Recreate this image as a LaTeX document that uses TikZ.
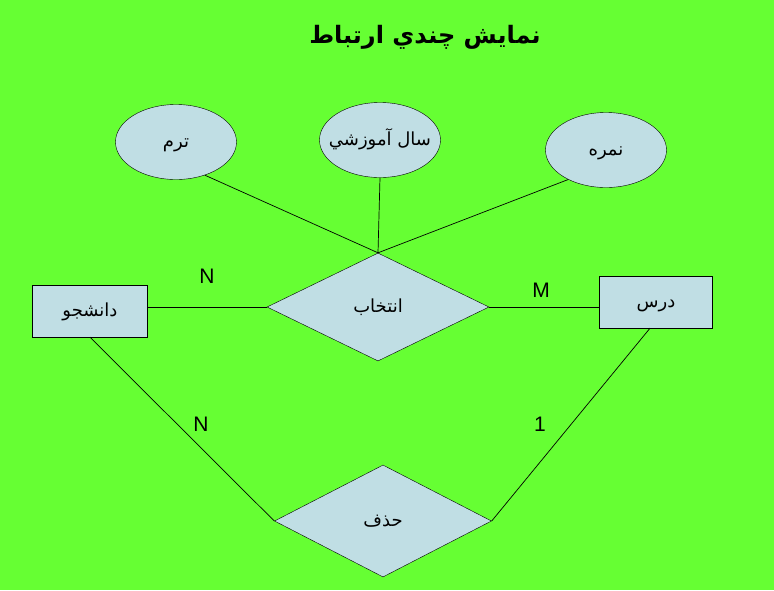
\documentclass[tikz,border=0pt]{standalone}
\usepackage{fontspec}
\usetikzlibrary{shapes.geometric}
\setmainfont{Liberation Sans}
\newfontfamily\arabicfont[Script=Arabic]{DejaVu Sans}
\TeXXeTstate=1
\definecolor{bggreen}{RGB}{102,255,51}
\definecolor{boxblue}{RGB}{192,222,228}
\begin{document}
\begin{tikzpicture}[x=1pt,y=-1pt,
  lbl/.style={font=\arabicfont\fontsize{18}{22}\selectfont,text height=13pt,text depth=2pt},
  attr/.style={ellipse,draw,fill=boxblue,inner sep=0pt,minimum width=121pt,minimum height=75pt,lbl},
  ent/.style={rectangle,draw,fill=boxblue,inner sep=0pt,minimum width=115pt,minimum height=52pt,lbl},
  rel/.style={diamond,draw,fill=boxblue,inner sep=0pt,lbl},
  card/.style={font=\fontsize{21}{24}\selectfont},
  conn/.style={draw,line width=0.7pt}]
\fill[bggreen] (0,0) rectangle (774,590);
\useasboundingbox (0,0) rectangle (774,590);
\node (title) at (425,37) {\arabicfont\bfseries\fontsize{24}{30}\selectfont\beginR نمايش چندي ارتباط\endR};
\node[attr] (t) at (176,142) {\beginR ترم\endR};
\node[attr] (s) at (380,140) {\makebox[50pt]{\beginR سال آموزشي\endR}};
\node[attr] (n) at (606,150) {\beginR نمره\endR};
\node[rel,minimum width=222pt,minimum height=108pt] (sel) at (378,307) {\beginR انتخاب\endR};
\node[ent] (d) at (90,311) {\beginR دانشجو\endR};
\node[ent,minimum width=113pt] (r) at (656,302) {\beginR درس\endR};
\node[rel,minimum width=217pt,minimum height=112pt] (h) at (383,521) {\beginR حذف\endR};
\draw[conn] (t.-49) -- (sel.north);
\draw[conn] (s.south) -- (sel.north);
\draw[conn] (n.218) -- (sel.north);
\draw[conn] (sel.west) -- (sel.west -| d.east);
\draw[conn] (sel.east) -- (sel.east -| r.west);
\draw[conn] (d.south) -- (h.west);
\draw[conn] ([xshift=-6pt]r.south) -- (h.east);
\node[card] (c1) at (207,276) {N};
\node[card] (c2) at (541,290) {M};
\node[card] (c3) at (201,424) {N};
\node[card] (c4) at (540,424) {1};
\end{tikzpicture}
\end{document}
